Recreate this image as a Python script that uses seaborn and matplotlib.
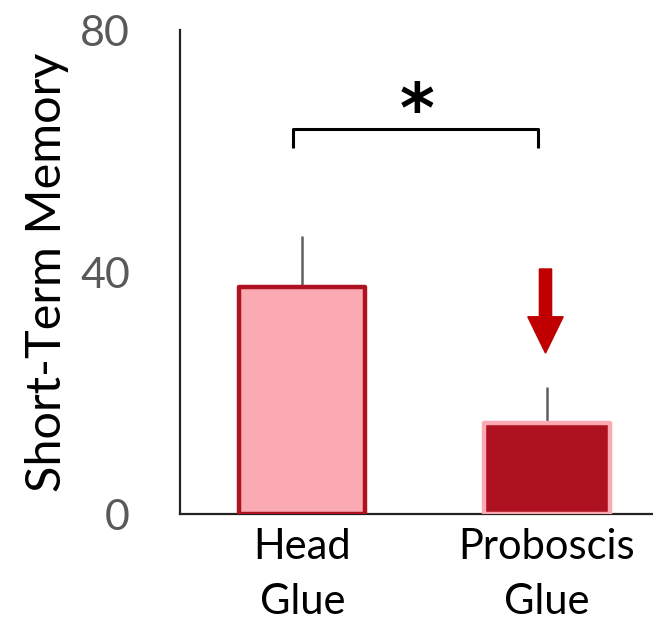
import matplotlib
matplotlib.use("Agg")
import matplotlib.pyplot as plt
import seaborn as sns
import pandas as pd
from matplotlib.patches import FancyArrow

categories = ["Head\nGlue", "Proboscis\nGlue"]
values = [37.5, 15.0]
errors = [8.5, 6.0]
y_ticks = [0, 40, 80]

fill_colors = ["#FBA9B2", "#AE1120"]
edge_colors = ["#AE1120", "#FBA9B2"]

sns.set_style("white")
plt.rcParams["font.family"] = ["Lato", "DejaVu Sans"]

fig = plt.figure(figsize=(6.53, 6.25), dpi=100)
ax = fig.add_axes([180/653, (625-514)/625, (653-180)/653, 484/625])

df = pd.DataFrame({"cat": categories, "val": values})
sns.barplot(data=df, x="cat", y="val", hue="cat", palette=fill_colors,
            saturation=1, width=0.515, errorbar=None, legend=False, ax=ax, zorder=3)
for p, ec in zip(ax.patches, edge_colors):
    p.set_edgecolor(ec)
    p.set_linewidth(3.2)
    p.set_joinstyle("round")

ax.errorbar([0, 1], values, yerr=[[0, 0], errors], fmt="none",
            ecolor="#5F5F5F", elinewidth=1.8, capsize=0, zorder=2)

ax.set_ylim(0, 80)
ax.set_xlim(-0.501, 1.435)
ax.set_yticks(y_ticks)
ax.tick_params(axis="y", labelsize=31, labelcolor="#595959", length=0, pad=36)
ax.tick_params(axis="x", labelsize=30, labelcolor="black", length=0, pad=10)
for t in ax.get_xticklabels():
    t.set_linespacing(1.55)
ax.set_xlabel("")
ax.set_ylabel("Short-Term Memory", fontsize=35, color="black", labelpad=8)

for s in ["top", "right"]:
    ax.spines[s].set_visible(False)
for s in ["left", "bottom"]:
    ax.spines[s].set_color("#222222")
    ax.spines[s].set_linewidth(1.6)

# significance bracket
ax.plot([-0.04, -0.04, 0.965, 0.965], [60.5, 63.6, 63.6, 60.5],
        color="black", lw=2.2, solid_joinstyle="round", solid_capstyle="butt", clip_on=False)
ax.text(0.47, 66.2, "*", ha="center", va="center", fontsize=48, fontweight="bold",
        family="DejaVu Sans", color="black")

# red arrow
ax.add_patch(FancyArrow(0.995, 40.5, 0, -(40.5 - 26.6),
                        width=0.05, head_width=0.145, head_length=6.0,
                        length_includes_head=True, color="#C00000", zorder=4))

fig.savefig("out.png", dpi=100)
